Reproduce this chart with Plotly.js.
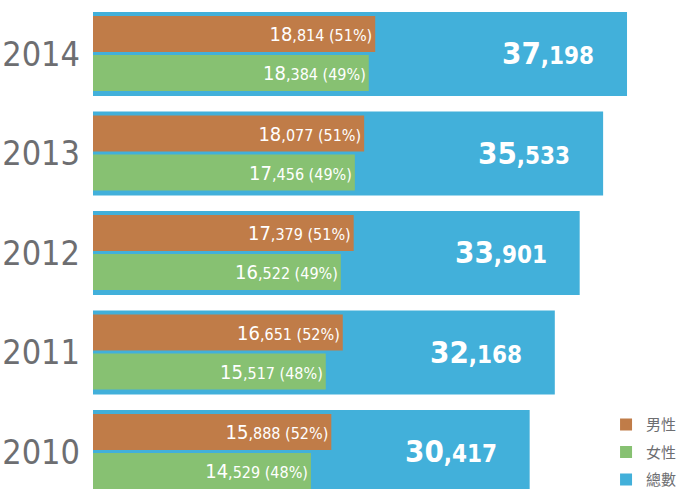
<!DOCTYPE html>
<html>
<head>
<meta charset="utf-8">
<script src="https://cdn.plot.ly/plotly-3.0.1.min.js"></script>
<style>html,body{margin:0;padding:0;background:#fff;}#chart{width:678px;height:489px;}</style>
</head>
<body>
<div id="chart"></div>
<script>
const years = [2010, 2011, 2012, 2013, 2014];
const male = [15888, 16651, 17379, 18077, 18814];
const female = [14529, 15517, 16522, 17456, 18384];
const total = [30417, 32168, 33901, 35533, 37198];
const malePct = [52, 52, 51, 51, 51];
const femalePct = [48, 48, 49, 49, 49];
const legendNames = ['男性', '女性', '總數'];

const NUM_FONT = 'Liberation Sans Narrow, DejaVu Sans Condensed, Roboto, sans-serif';

function fmt(v, bigSize) {
  const head = Math.floor(v / 1000);
  const tail = String(v % 1000).padStart(3, '0');
  return '<span style="font-size:' + bigSize + 'px">' + head + '</span>,' + tail;
}

const maleText = male.map((v, i) => fmt(v, 20) + ' (' + malePct[i] + '%)');
const femaleText = female.map((v, i) => fmt(v, 20) + ' (' + femalePct[i] + '%)');

const traces = [
  {
    type: 'bar', orientation: 'h', name: legendNames[0], legendgroup: 'm',
    y: years, x: male, xaxis: 'x2', yaxis: 'y',
    offset: 0.02, width: 0.362,
    marker: {color: '#C07C48'},
    text: maleText, textposition: 'inside', insidetextanchor: 'end',
    textangle: 0, constraintext: 'none',
    textfont: {family: NUM_FONT, size: 16, color: '#ffffff'},
    hoverinfo: 'none'
  },
  {
    type: 'bar', orientation: 'h', name: legendNames[1], legendgroup: 'f',
    y: years, x: female, xaxis: 'x2', yaxis: 'y',
    offset: -0.372, width: 0.362,
    marker: {color: '#87C172'},
    text: femaleText, textposition: 'inside', insidetextanchor: 'end',
    textangle: 0, constraintext: 'none',
    textfont: {family: NUM_FONT, size: 16, color: '#ffffff'},
    hoverinfo: 'none'
  },
  {
    type: 'bar', orientation: 'h', name: legendNames[2], legendgroup: 't',
    y: years, x: total, xaxis: 'x', yaxis: 'y',
    offset: -0.422, width: 0.844,
    marker: {color: '#42B0DA'},
    hoverinfo: 'none'
  }
];

const annotations = total.map((v, i) => ({
  x: v, y: years[i], xref: 'x', yref: 'y',
  text: '<b>' + fmt(v, 31) + '</b>',
  showarrow: false, xanchor: 'right', yanchor: 'middle', xshift: -31, yshift: 1,
  font: {family: NUM_FONT, size: 24, color: '#ffffff'}
}));

const layout = {
  width: 678, height: 489,
  margin: {l: 93, r: 0, t: 0, b: 0, pad: 0, autoexpand: false},
  paper_bgcolor: '#ffffff', plot_bgcolor: '#ffffff',
  barmode: 'overlay',
  showlegend: true,
  xaxis: {range: [0, 40749], visible: false, fixedrange: true},
  xaxis2: {range: [0, 39000], overlaying: 'x', visible: false, fixedrange: true},
  yaxis: {
    range: [2009.628, 2014.543], tickvals: years, ticktext: years.map(String),
    showgrid: false, zeroline: false, showline: false, ticks: '',
    automargin: false, ticklabelstandoff: 12,
    tickfont: {family: NUM_FONT, size: 34, color: '#6D6E71'}
  },
  legend: {
    x: 0.877, xanchor: 'left', y: 0.165, yanchor: 'top',
    traceorder: 'grouped', tracegroupgap: 5,
    bgcolor: 'rgba(0,0,0,0)',
    font: {family: 'Noto Sans CJK TC, sans-serif', size: 15, color: '#6D6E71'}
  },
  annotations: annotations
};

Plotly.newPlot('chart', traces, layout, {displayModeBar: false, staticPlot: true});
</script>
</body>
</html>
